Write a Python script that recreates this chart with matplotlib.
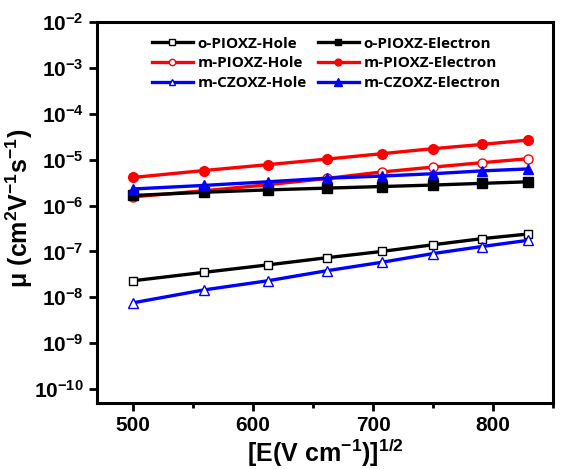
import math
import matplotlib
matplotlib.use("Agg")
import matplotlib.pyplot as plt
from matplotlib.ticker import FixedLocator, FuncFormatter, MultipleLocator

# sqrt(E) values, E from 2.5e5 to 6.875e5 V/cm
sqrt_e = [500, 559.0, 612.4, 661.4, 707.1, 750, 790.6, 829.2]

o_pioxz_hole = [2.3e-8, 3.5e-8, 5.1e-8, 7.3e-8, 1.0e-7, 1.4e-7, 1.9e-7, 2.4e-7]
o_pioxz_elec = [1.66e-6, 1.95e-6, 2.2e-6, 2.4e-6, 2.6e-6, 2.8e-6, 3.05e-6, 3.3e-6]
m_pioxz_hole = [1.55e-6, 2.1e-6, 2.85e-6, 3.9e-6, 5.4e-6, 6.9e-6, 8.6e-6, 1.05e-5]
m_pioxz_elec = [4.1e-6, 5.8e-6, 7.8e-6, 1.03e-5, 1.35e-5, 1.74e-5, 2.15e-5, 2.68e-5]
m_czoxz_hole = [7.6e-9, 1.45e-8, 2.3e-8, 3.8e-8, 5.8e-8, 9.0e-8, 1.28e-7, 1.75e-7]
m_czoxz_elec = [2.3e-6, 2.75e-6, 3.3e-6, 3.95e-6, 4.4e-6, 4.95e-6, 5.7e-6, 6.3e-6]

plt.rcParams['font.family'] = ['Liberation Sans', 'DejaVu Sans']
plt.rcParams['font.weight'] = 'bold'
plt.rcParams['mathtext.fontset'] = 'custom'
plt.rcParams['mathtext.rm'] = 'Liberation Sans:bold'
plt.rcParams['mathtext.it'] = 'Liberation Sans:bold:italic'
plt.rcParams['mathtext.bf'] = 'Liberation Sans:bold'

fig = plt.figure(figsize=(5.61, 4.69), dpi=100)
ax = fig.add_axes([0.173, 0.141, 0.813, 0.812])

lw = 2.4
# holes first so they fill the left legend column
series = [
    (o_pioxz_hole, 'o-PIOXZ-Hole', 'black', 's', 'white', 6),
    (m_pioxz_hole, 'm-PIOXZ-Hole', 'red', 'o', 'white', 6.5),
    (m_czoxz_hole, 'm-CZOXZ-Hole', 'blue', '^', 'white', 6.5),
    (o_pioxz_elec, 'o-PIOXZ-Electron', 'black', 's', 'black', 6.5),
    (m_pioxz_elec, 'm-PIOXZ-Electron', 'red', 'o', 'red', 7),
    (m_czoxz_elec, 'm-CZOXZ-Electron', 'blue', '^', 'blue', 7.5),
]
for vals, label, color, marker, face, ms in series:
    ax.plot(sqrt_e, vals, color=color, lw=lw, marker=marker, ms=ms,
            markerfacecolor=face, markeredgecolor=color, markeredgewidth=1.0,
            label=label)

ax.set_yscale('log')
ax.set_ylim(10 ** -10.3, 1e-2)
ax.set_xlim(470, 850)

ax.yaxis.set_major_locator(FixedLocator([10.0 ** k for k in range(-10, -1)]))
ax.yaxis.set_minor_locator(FixedLocator([]))
ax.yaxis.set_major_formatter(FuncFormatter(
    lambda v, p: r'$\mathrm{10^{%d}}$' % round(math.log10(v))))
ax.xaxis.set_major_locator(MultipleLocator(100))
ax.xaxis.set_minor_locator(MultipleLocator(50))

ax.tick_params(axis='both', which='both', direction='out', width=2, labelsize=15)
ax.tick_params(axis='both', which='major', length=6)
ax.tick_params(axis='x', which='minor', length=3.5)
for s in ax.spines.values():
    s.set_linewidth(2.2)

ax.set_xlabel(r'$\mathrm{[E(V\ cm^{-1})]^{1/2}}$', fontsize=18, labelpad=1)
ax.set_ylabel(r'$\mathrm{\mu\ (cm^{2}V^{-1}s^{-1})}$', fontsize=18)
ax.yaxis.set_label_coords(-0.135, 0.51)

ax.legend(ncol=2, frameon=False, loc='upper left', bbox_to_anchor=(0.09, 0.998),
          prop={'family': 'Open Sans', 'weight': 'bold', 'size': 11},
          handlelength=2.7, columnspacing=0.7, handletextpad=0.3,
          labelspacing=0.38, markerscale=0.7)

fig.savefig('out.png', dpi=100)
